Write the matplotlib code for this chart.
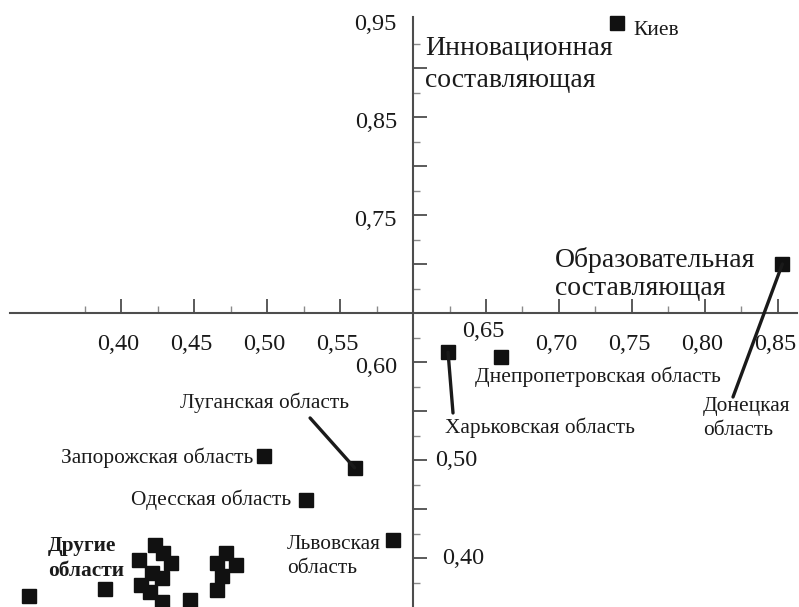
import matplotlib
matplotlib.use("Agg")
import matplotlib.pyplot as plt
import numpy as np

plt.rcParams["font.family"] = ["Liberation Serif", "DejaVu Serif"]

INK = "#1a1a1a"
AXIS = "#4d4d4d"

# labelled regions: (education component, innovation component)
regions = ["Киев", "Донецкая область", "Харьковская область",
           "Днепропетровская область", "Луганская область",
           "Запорожская область", "Одесская область", "Львовская область"]
region_x = [0.740, 0.853, 0.624, 0.660, 0.560, 0.498, 0.527, 0.586]
region_y = [0.946, 0.700, 0.610, 0.605, 0.492, 0.504, 0.459, 0.418]

# other regions (unlabelled cluster)
other_x = [0.337, 0.389, 0.412, 0.423, 0.429, 0.434, 0.421, 0.428, 0.414,
           0.420, 0.428, 0.447, 0.472, 0.479, 0.466, 0.469, 0.466]
other_y = [0.361, 0.368, 0.398, 0.413, 0.405, 0.395, 0.385, 0.380, 0.372,
           0.365, 0.355, 0.357, 0.405, 0.393, 0.395, 0.382, 0.367]

x_major = [0.40, 0.45, 0.50, 0.55, 0.65, 0.70, 0.75, 0.80, 0.85]
x_minor = [0.375, 0.425, 0.475, 0.525, 0.575, 0.625, 0.675, 0.725, 0.775, 0.825]
y_major = [0.40, 0.45, 0.50, 0.55, 0.60, 0.70, 0.75, 0.80, 0.85, 0.90]
y_minor = [0.375, 0.425, 0.475, 0.525, 0.575, 0.625, 0.675, 0.725, 0.775,
           0.825, 0.875, 0.925]
x_labels = ["0,40", "0,45", "0,50", "0,55", "0,65", "0,70", "0,75", "0,80", "0,85"]
y_labels_left = [0.95, 0.85, 0.75, 0.60]
y_labels_right = [0.50, 0.40]

X0, Y0 = 0.60, 0.65  # where the axes cross


def fmt(v):
    return f"{v:.2f}".replace(".", ",")


fig = plt.figure(figsize=(7.99, 6.07), dpi=100)
ax = fig.add_axes([0, 0, 1, 1])
ax.set_xlim(0.3171, 0.8644)
ax.set_ylim(0.35, 0.9694)

for s in ["top", "right"]:
    ax.spines[s].set_visible(False)
ax.spines["left"].set_position(("data", X0))
ax.spines["bottom"].set_position(("data", Y0))
ax.spines["left"].set_bounds(0.35, 0.952)
ax.spines["bottom"].set_bounds(0.324, 0.863)
for s in ["left", "bottom"]:
    ax.spines[s].set_color(AXIS)
    ax.spines[s].set_linewidth(1.5)

ax.set_xticks(x_major)
ax.set_xticks(x_minor, minor=True)
ax.set_yticks(y_major)
ax.set_yticks(y_minor, minor=True)
ax.tick_params(labelbottom=False, labelleft=False)
ax.tick_params(which="major", direction="in", length=10, width=1.3, color=AXIS)
ax.tick_params(which="minor", direction="in", length=5, width=1.0, color="#8a8a8a")

# tick labels
TICK_FS = 17.5
for v, lab in zip(x_major, x_labels):
    yy = 0.631 if lab == "0,65" else 0.618
    ax.text(v - 0.002, yy, lab, ha="center", va="center", fontsize=TICK_FS, color=INK)
for v in y_labels_left:
    ax.text(X0 - 0.011, v - 0.006, fmt(v), ha="right", va="center",
            fontsize=TICK_FS, color=INK)
for v, dx in zip(y_labels_right, [0.015, 0.020]):
    ax.text(X0 + dx, v - 0.001, fmt(v), ha="left", va="center",
            fontsize=TICK_FS, color=INK)

# points
ax.plot(other_x, other_y, "s", ms=9.4, color="#111111", mec="#111111")
ax.plot(region_x, region_y, "s", ms=9.4, color="#111111", mec="#111111")

# axis titles
ax.text(0.6082, 0.9133, "Инновационная", fontsize=20, color=INK, va="baseline")
ax.text(0.6082, 0.8806, "составляющая", fontsize=20, color=INK, va="baseline")
ax.text(0.6973, 0.6969, "Образовательная", fontsize=20, color=INK, va="baseline")
ax.text(0.6973, 0.6684, "составляющая", fontsize=20, color=INK, va="baseline")

# region labels
lab_kw = dict(fontsize=15.4, color=INK, va="center")
ax.text(0.7507, 0.9378, "Киев", ha="left", **lab_kw)
ax.text(0.4404, 0.5582, "Луганская область", ha="left", **lab_kw)
ax.text(0.4904, 0.5020, "Запорожская область", ha="right", **lab_kw)
ax.text(0.5164, 0.4592, "Одесская область", ha="right", **lab_kw)
ax.text(0.5137, 0.4015, "Львовская\nобласть", ha="left", linespacing=1.3, **lab_kw)
ax.text(0.6425, 0.5847, "Днепропетровская область", ha="left", **lab_kw)
ax.text(0.6219, 0.5327, "Харьковская область", ha="left", **lab_kw)
ax.text(0.7986, 0.5423, "Донецкая\nобласть", ha="left", linespacing=1.3, **lab_kw)
ax.text(0.3500, 0.3995, "Другие\nобласти", ha="left", linespacing=1.3,
        fontweight="bold", **lab_kw)

# leader lines from the point to its label
leaders = {
    "Луганская область": (0.5295, 0.5429),
    "Харьковская область": (0.6274, 0.5480),
    "Донецкая область": (0.8192, 0.5643),
}
for name, end in leaders.items():
    i = regions.index(name)
    ax.annotate("", xy=end, xytext=(region_x[i], region_y[i]),
                arrowprops=dict(arrowstyle="-", color=INK, lw=2.4,
                                shrinkA=0, shrinkB=0))

fig.savefig("out.png", dpi=100)
